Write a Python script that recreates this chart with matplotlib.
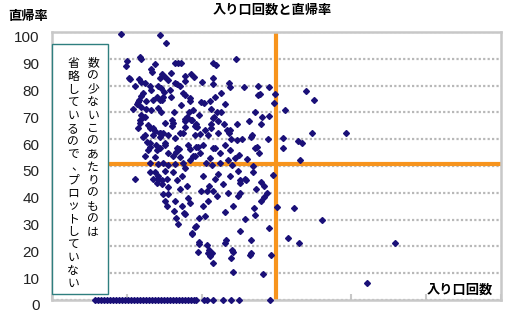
import matplotlib
matplotlib.use('Agg')
import matplotlib.pyplot as plt
import matplotlib.patches as mpatches
import matplotlib.transforms as mtransforms

plt.rcParams['font.family'] = ['Noto Sans CJK JP', 'DejaVu Sans']

title = '入り口回数と直帰率'
xlabel = '入り口回数'
ylabel = '直帰率'
note_right = '数の少ないこのあたりのものは'
note_left = '省略しているので、プロットしていない'

yticks = [0, 10, 20, 30, 40, 50, 60, 70, 80, 90, 100]
xticks = [0, 10, 20, 30, 40, 50, 60]
x_cut = 30      # vertical orange line
y_cut = 50.7    # horizontal orange line

# entry count / bounce rate
visits = [
    9.2, 14.4, 15.2,
    10.0, 9.9, 11.7, 11.9, 13.8, 13.2, 13.4, 16.4, 16.8, 17.2, 21.5, 21.9, 24.6,
    14.7, 15.1, 15.9, 15.5, 10.3, 10.4, 11.6, 11.9, 12.4, 14.4, 17.8, 17.8, 18.6,
    19.0, 20.0, 21.5, 21.5, 23.7, 23.8, 16.4, 16.7, 17.1, 14.2, 14.6, 13.1, 11.1,
    25.7, 27.5, 29.0, 34.0, 35.0,
    13.2, 12.2, 11.9, 11.6, 12.6, 13.5, 14.0, 14.4, 14.8, 15.8, 15.0, 17.5, 17.8,
    22.6, 15.9, 18.4, 18.4, 19.9, 20.3, 21.1, 21.8, 23.1, 14.7, 17.2, 10.8, 11.9,
    12.6, 13.2, 14.2, 14.6, 16.3, 18.3, 18.9, 21.3, 22.1, 22.6, 11.4, 11.5, 27.8,
    27.5, 29.8, 29.7, 31.1, 27.1,
    11.9, 12.2, 11.8, 12.4, 12.8, 13.5, 11.5, 12.2, 13.5, 14.4, 14.8, 15.5, 16.2,
    17.1, 17.8, 18.0, 18.6, 19.3, 19.4, 19.8, 20.9, 21.3, 21.5, 22.2, 23.4, 23.7,
    23.9, 25.4, 26.6, 21.7, 19.7, 17.8, 18.7, 16.0, 15.1, 16.0, 17.8, 19.1, 21.3,
    23.0, 14.4, 16.4, 17.5, 19.1, 20.5, 22.2, 23.8, 11.8, 13.1, 13.8, 12.4, 14.4,
    24.7, 26.3, 27.9, 28.1, 29.0, 24.7, 26.7, 28.9, 30.9, 32.9, 33.4, 34.8, 39.3,
    12.7, 13.1, 14.0, 15.1, 16.7, 18.4, 19.5, 21.5, 22.5, 16.2, 17.1, 18.8, 15.1,
    17.0, 18.2, 19.3, 20.2, 21.8, 23.1, 23.8, 15.5, 16.6, 19.1, 19.8, 21.1, 22.5,
    23.5, 24.5, 20.6, 21.4, 17.5, 18.4, 14.8, 15.5, 16.4, 13.1, 13.9, 12.8, 14.4,
    12.4, 13.8, 13.1, 14.2, 27.4, 27.1, 27.7, 30.9, 33.2, 25.0, 26.0, 24.0, 26.8,
    11.1, 13.8, 14.2, 14.7, 13.1, 13.5, 14.0, 14.2, 14.7, 15.1, 15.4, 15.5, 14.8,
    15.5, 16.2, 16.7, 17.1, 17.4, 17.8, 18.0, 20.2, 19.9, 21.0, 21.5, 21.8, 22.2,
    22.9, 23.5, 23.8, 25.1, 25.8, 26.9, 27.2, 24.9, 25.1, 25.9, 27.9, 28.3, 25.1,
    29.5, 28.7, 28.3, 20.7,
    18.2, 18.4, 17.4, 16.4, 15.4, 15.1, 20.2, 20.9, 22.0, 24.2, 24.9, 27.0, 27.9,
    30.1, 32.4, 16.3, 17.8, 19.7, 20.5, 23.1, 16.6, 17.6, 25.8, 36.1, 27.1,
    16.8, 19.1, 18.7, 19.3, 18.7, 19.7, 19.6, 20.7, 23.3, 23.1, 25.1, 26.6, 29.0,
    31.6, 33.0, 45.9,
    19.5, 21.0, 21.4, 21.5, 20.9, 21.1, 24.1, 24.2, 23.9, 24.2, 26.5, 26.6, 29.3,
    28.2, 42.1,
]
bounce = [
    99.3, 98.9, 95.9,
    89.1, 87.3, 90.6, 89.9, 88.0, 86.1, 85.0, 88.4, 88.4, 88.4, 88.4, 87.6, 89.9,
    84.3, 83.1, 84.6, 82.0, 82.8, 82.4, 82.4, 81.3, 80.9, 82.8, 83.5, 81.6, 84.3,
    83.1, 81.3, 82.8, 80.5, 80.9, 79.4, 80.9, 80.5, 79.8, 79.8, 79.0, 79.8, 79.8,
    79.4, 79.8, 79.4, 77.9, 74.5,
    78.3, 77.2, 76.0, 74.5, 74.2, 74.5, 75.7, 74.5, 75.7, 78.3, 77.5, 77.2, 76.4,
    77.2, 75.7, 75.3, 74.2, 73.8, 73.4, 74.2, 75.7, 73.0, 74.5, 72.7, 71.2, 71.9,
    71.2, 70.8, 71.5, 70.0, 70.0, 70.0, 70.8, 71.2, 70.0, 70.0, 73.0, 73.8, 76.8,
    76.4, 76.8, 73.4, 70.8, 70.0,
    68.9, 68.2, 67.0, 68.2, 65.2, 64.0, 64.0, 60.7, 61.4, 62.5, 62.2, 61.4, 65.9,
    62.5, 64.4, 68.2, 67.0, 65.5, 64.4, 61.8, 61.4, 64.0, 67.8, 66.7, 63.3, 62.5,
    59.9, 59.9, 60.7, 68.2, 68.9, 67.4, 67.0, 67.0, 65.9, 64.8, 66.7, 64.8, 65.5,
    65.5, 62.2, 60.3, 62.2, 61.4, 63.3, 62.5, 63.3, 65.9, 64.0, 62.9, 61.4, 61.0,
    65.5, 66.7, 65.5, 68.2, 68.5, 59.6, 61.4, 59.9, 60.3, 59.2, 58.4, 62.2, 62.2,
    58.8, 57.0, 55.8, 58.4, 56.6, 56.2, 57.0, 56.6, 54.7, 53.9, 53.2, 53.6, 58.0,
    56.2, 57.7, 57.0, 58.0, 56.6, 57.7, 55.8, 54.7, 55.4, 53.9, 55.0, 52.8, 51.3,
    52.1, 52.8, 51.3, 50.2, 51.3, 52.1, 51.3, 50.2, 50.6, 58.4, 57.7, 55.8, 56.6,
    53.9, 53.2, 51.3, 50.9, 57.0, 56.6, 55.0, 56.6, 52.1, 54.0, 52.5, 50.5, 50.0,
    45.3, 47.6, 45.3, 44.6, 47.6, 45.3, 43.8, 46.4, 43.1, 48.3, 45.3, 42.3, 39.7,
    39.7, 47.6, 44.6, 41.6, 46.4, 49.1, 42.7, 46.4, 40.8, 42.7, 40.8, 45.3, 47.2,
    43.1, 40.1, 46.4, 44.6, 45.3, 47.6, 41.6, 48.3, 43.8, 44.9, 44.2, 42.7, 40.1,
    46.8, 40.0, 38.6, 40.8,
    38.2, 36.3, 35.2, 37.1, 35.2, 37.1, 35.2, 37.1, 38.9, 35.2, 38.9, 34.5, 37.1,
    34.8, 34.5, 33.3, 32.2, 30.7, 31.5, 33.0, 30.7, 32.6, 30.3, 30.0, 31.8,
    28.5, 27.3, 24.7, 27.7, 25.1, 21.0, 21.5, 20.6, 22.5, 21.3, 25.8, 22.5, 27.0,
    23.2, 21.3, 21.3,
    18.0, 18.7, 17.6, 13.9, 17.6, 16.5, 18.7, 18.0, 15.7, 10.5, 16.9, 17.6, 16.9,
    9.7, 6.4,
]
# pages with bounce rate 0
zero_visits = [
    5.8, 6.2, 6.6, 7.0, 7.4, 7.8, 8.2, 8.6, 9.0, 9.4, 9.8, 10.2, 10.6, 11.0, 11.4,
    11.8, 12.2, 12.6, 13.0, 13.4, 13.8, 14.2, 14.6, 15.0, 15.4, 15.8, 16.2, 16.6,
    17.0, 17.4, 17.8, 18.2, 18.6, 19.0, 19.3, 20.3, 20.7, 21.5, 22.9, 23.9, 25.0,
    29.1,
]
zero_bounce = [0] * len(zero_visits)

W, H = 510, 320
fig = plt.figure(figsize=(W / 100, H / 100), dpi=100)
ax = fig.add_axes([52 / W, 1 - 300 / H, (501 - 52) / W, (300 - 32) / H])

ax.set_xlim(0, 60)
ax.set_ylim(0, 100)

for s in ax.spines.values():
    s.set_color('#c8c8c8')
    s.set_linewidth(1.8)

ax.set_yticks(yticks)
ax.set_yticklabels([str(v) for v in yticks], family='Liberation Sans', fontsize=11)
ax.tick_params(axis='y', length=0, pad=9, colors='#222222')
# labels sit a little below their grid lines in the original
shift = mtransforms.ScaledTranslation(0, -5 / 100, fig.dpi_scale_trans)
for lab in ax.get_yticklabels():
    lab.set_transform(lab.get_transform() + shift)

ax.set_xticks(xticks)
ax.set_xticklabels([])
ax.tick_params(axis='x', direction='in', length=4, width=1.5, color='#c8c8c8')

ax.yaxis.grid(True, color='#b8b8b8', linestyle=(0, (1, 1)), linewidth=1.6)
ax.set_axisbelow(True)

ax.axvline(x_cut, color='#f7941d', lw=3, zorder=2)
ax.axhline(y_cut, color='#f7941d', lw=3, zorder=2)

ax.plot(visits, bounce, 'D', ms=3.0, color='#1a1078', zorder=3, clip_on=False)
ax.plot(zero_visits, zero_bounce, 'D', ms=3.0, color='#1a1078', zorder=3, clip_on=False)

# text labels
fig.text(272 / W, 1 - 10 / H, title, ha='center', va='center', fontsize=9.5, weight='bold')
fig.text(28 / W, 1 - 16 / H, ylabel, ha='center', va='center', fontsize=9.5, weight='bold')
fig.text(493 / W, 1 - 290 / H, xlabel, ha='right', va='center', fontsize=9.5, weight='bold')

# note box with vertical text
box = mpatches.Rectangle((52 / W, 1 - 294 / H), 56 / W, 250 / H, transform=fig.transFigure,
                         facecolor='white', edgecolor='#2f7f7f', lw=1, zorder=5)
fig.add_artist(box)


def vertical_text(text, x, y0, step):
    for i, ch in enumerate(text):
        dx = 0
        if ch in '、。':
            dx = 4
        elif ch in 'ッっ':
            dx = 1
        fig.text((x + dx) / W, 1 - (y0 + i * step) / H, ch, ha='center', va='center',
                 fontsize=8.5, zorder=6)


vertical_text(note_right, 93, 63, 13.0)
vertical_text(note_left, 73, 64, 12.9)

fig.savefig('out.png', dpi=100)
